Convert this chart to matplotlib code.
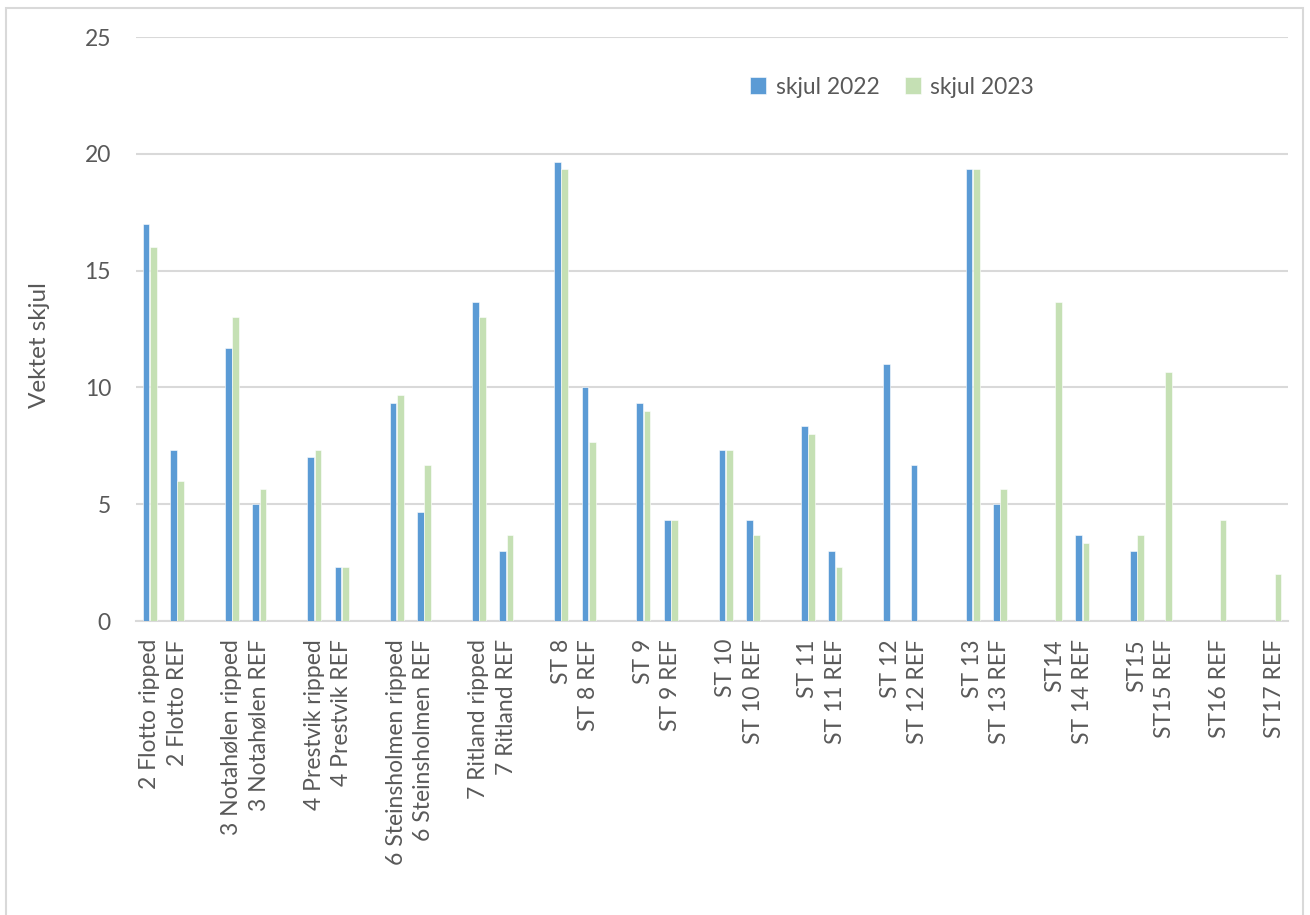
import numpy as np
import matplotlib
matplotlib.use("Agg")
import matplotlib.pyplot as plt
import matplotlib.patches as mpatches

plt.rcParams['font.family'] = ['Lato', 'DejaVu Sans']

# stasjoner (tomme navn gir luft mellom parene)
stasjoner = [
    "2 Flotto ripped", "2 Flotto REF", "",
    "3 Notahølen ripped", "3 Notahølen REF", "",
    "4 Prestvik ripped", "4 Prestvik REF", "",
    "6 Steinsholmen ripped", "6 Steinsholmen REF", "",
    "7 Ritland ripped", "7 Ritland REF", "",
    "ST 8", "ST 8 REF", "",
    "ST 9", "ST 9 REF", "",
    "ST 10", "ST 10 REF", "",
    "ST 11", "ST 11 REF", "",
    "ST 12", "ST 12 REF", "",
    "ST 13", "ST 13 REF", "",
    "ST14", "ST 14 REF", "",
    "ST15", "ST15 REF", "",
    "ST16 REF", "",
    "ST17 REF",
]
nan = np.nan
skjul_2022 = [
    17, 7.33, nan,
    11.67, 5, nan,
    7, 2.33, nan,
    9.33, 4.67, nan,
    13.67, 3, nan,
    19.67, 10, nan,
    9.33, 4.33, nan,
    7.33, 4.33, nan,
    8.33, 3, nan,
    11, 6.67, nan,
    19.33, 5, nan,
    nan, 3.67, nan,
    3, nan, nan,
    nan, nan,
    nan,
]
skjul_2023 = [
    16, 6, nan,
    13, 5.67, nan,
    7.33, 2.33, nan,
    9.67, 6.67, nan,
    13, 3.67, nan,
    19.33, 7.67, nan,
    9, 4.33, nan,
    7.33, 3.67, nan,
    8, 2.33, nan,
    nan, nan, nan,
    19.33, 5.67, nan,
    13.67, 3.33, nan,
    3.67, 10.67, nan,
    4.33, nan,
    2,
]

blaa = "#5B9BD5"
gronn = "#C5E0B4"
tekst = "#595959"
linje = "#D9D9D9"

fig = plt.figure(figsize=(13.1, 9.15), dpi=100)
ax = fig.add_axes([136/1310, 1-621/915, (1288-136)/1310, (621-37)/915])

x = np.arange(len(stasjoner))
b = 0.245
ax.bar(x - 0.135, skjul_2022, b, color=blaa, edgecolor="white", linewidth=0.4, label="skjul 2022", zorder=3)
ax.bar(x + 0.135, skjul_2023, b, color=gronn, edgecolor="white", linewidth=0.4, label="skjul 2023", zorder=3)

ax.set_xlim(-0.5, len(stasjoner) - 0.5)
ax.set_ylim(0, 25)
ax.set_yticks([0, 5, 10, 15, 20, 25])
ax.set_xticks(x)
ax.set_xticklabels(stasjoner, rotation=90, ha="center", va="top")
ax.tick_params(axis="both", length=0, colors=tekst, labelsize=16.5)
ax.tick_params(axis="x", pad=13)
ax.tick_params(axis="y", pad=18)

ax.yaxis.grid(True, color=linje, linewidth=1.5, zorder=0)
ax.set_axisbelow(True)
for s in ["top", "right", "left"]:
    ax.spines[s].set_visible(False)
ax.spines["bottom"].set_color(linje)
ax.spines["bottom"].set_linewidth(1.5)

fig.text(40/1310, 1-345/915, "Vektet skjul", rotation=90, ha="center", va="center",
         fontsize=17.5, color=tekst)

fig.legend(loc="center", bbox_to_anchor=(892/1310, 1-87/915), ncol=2, frameon=False,
           fontsize=16.5, labelcolor=tekst, handlelength=0.7, handleheight=0.7,
           handletextpad=0.4, columnspacing=1.1)

# ramme rundt hele diagrammet
fig.patches.append(mpatches.Rectangle((6/1310, -0.05), (1303-6)/1310, 1.05-8/915,
                                      transform=fig.transFigure, fill=False,
                                      edgecolor=linje, linewidth=1.5))

fig.savefig("out.png", dpi=100)
